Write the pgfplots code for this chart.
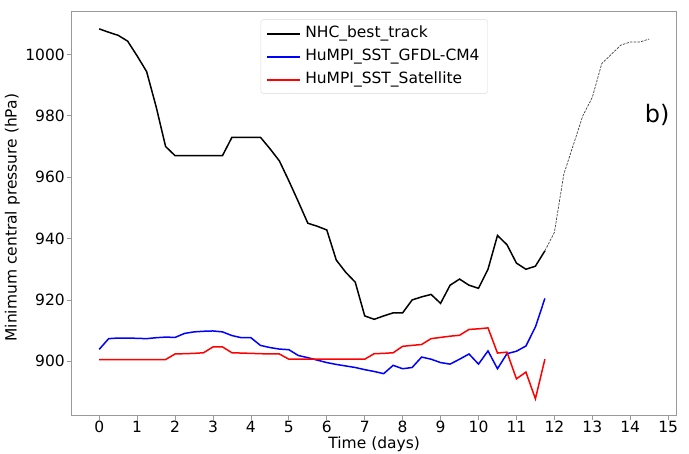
\documentclass[border=0pt]{standalone}
\usepackage{pgfplots}
\pgfplotsset{compat=1.18}
\usepackage{fontspec}
\setmainfont{DejaVu Sans}
\newcommand\fs{\fontsize{15.5}{18.6}\selectfont}

\pgfplotstableread{
t p
0 1008.3
0.25 1007.2
0.5 1006.2
0.75 1004.3
1.0 999.5
1.25 994.4
1.5 983
1.75 970
2.0 967
2.25 967
2.5 967
2.75 967
3.0 967
3.25 967
3.5 973
3.75 973
4.0 973
4.25 973
4.5 969.3
4.75 965.3
5.0 958.8
5.25 952
5.5 945
5.75 944
6.0 942.8
6.25 933
6.5 929
6.75 925.8
7.0 914.8
7.25 913.7
7.5 914.8
7.75 915.8
8.0 915.8
8.25 920
8.5 921
8.75 921.8
9.0 918.9
9.25 924.8
9.5 926.8
9.75 924.8
10.0 923.8
10.25 930
10.5 941
10.75 938
11.0 932
11.25 930
11.5 931
11.75 936
}\nhc

\pgfplotstableread{
t p
11.75 936
12.0 942
12.25 961
12.5 970.5
12.75 980
13.0 986
13.25 997
13.5 1000
13.75 1003
14.0 1004
14.25 1004
14.5 1005
}\nhcdash

\pgfplotstableread{
t p
0 903.9
0.25 907.4
0.5 907.6
0.75 907.6
1.0 907.5
1.25 907.4
1.5 907.7
1.75 907.9
2.0 907.8
2.25 909.1
2.5 909.6
2.75 909.8
3.0 909.9
3.25 909.6
3.5 908.4
3.75 907.7
4.0 907.7
4.25 905.2
4.5 904.5
4.75 904.0
5.0 903.8
5.25 901.9
5.5 901.2
5.75 900.4
6.0 899.6
6.25 899.0
6.5 898.5
6.75 898.0
7.0 897.3
7.25 896.7
7.5 896.0
7.75 898.7
8.0 897.6
8.25 898.0
8.5 901.4
8.75 900.7
9.0 899.6
9.25 899.1
9.5 900.7
9.75 902.4
10.0 899.1
10.25 903.4
10.5 897.6
10.75 902.5
11.0 903.3
11.25 905.0
11.5 911.2
11.75 920.5
}\gfdl

\pgfplotstableread{
t p
0 900.6
0.25 900.6
0.5 900.6
0.75 900.6
1.0 900.6
1.25 900.6
1.5 900.6
1.75 900.6
2.0 902.4
2.25 902.5
2.5 902.6
2.75 902.8
3.0 904.7
3.25 904.7
3.5 902.8
3.75 902.7
4.0 902.6
4.25 902.5
4.5 902.4
4.75 902.4
5.0 900.7
5.25 900.7
5.5 900.7
5.75 900.7
6.0 900.7
6.25 900.7
6.5 900.7
6.75 900.7
7.0 900.7
7.25 902.5
7.5 902.6
7.75 902.8
8.0 904.9
8.25 905.2
8.5 905.5
8.75 907.4
9.0 907.8
9.25 908.2
9.5 908.5
9.75 910.4
10.0 910.6
10.25 910.9
10.5 902.7
10.75 903.0
11.0 894.3
11.25 896.5
11.5 887.8
11.75 900.7
}\sat

\begin{document}
\begin{tikzpicture}
\begin{axis}[
  name=ax,
  scale only axis, width=605pt, height=404pt,
  xmin=-0.725, xmax=15.225, ymin=882.3, ymax=1013.9,
  xtick={0,1,...,15}, ytick={900,920,...,1000},
  axis line style={black!40, line width=0.8pt},
  tick style={black!40, line width=0.8pt},
  major tick length=4.5pt, tick align=outside, tick pos=left,
  /pgf/number format/assume math mode=true,
  /pgf/number format/set thousands separator={},
  ticklabel style={font=\fs, inner sep=0pt},
  xticklabel style={anchor=base, yshift=-12.5pt},
  yticklabel style={anchor=east, xshift=-2.2pt},
  xlabel={Time (days)}, ylabel={Minimum central pressure (hPa)},
  label style={font=\fs},
  xlabel style={at={(axis description cs:0.5,-0.0713)}, anchor=center},
  ylabel style={at={(axis description cs:-0.0983,0.49)}, anchor=center},
  legend style={at={(0.5,0.981)}, anchor=north, draw=black!15, rounded corners=2.5pt,
    font=\fs, inner xsep=6pt, inner ysep=4.5pt, row sep=4pt, column sep=4pt,
    nodes={inner sep=2pt, text height=11.5pt, text depth=3.5pt}},
  legend cell align=left,
]
\addlegendimage{legend image code/.code={\fill[black, sharp corners] (0pt,-0.75pt) rectangle (32pt,0.75pt);}}
\addlegendentry{NHC\_best\_track}
\addlegendimage{legend image code/.code={\fill[blue, sharp corners] (0pt,-0.75pt) rectangle (32pt,0.75pt);}}
\addlegendentry{HuMPI\_SST\_GFDL-CM4}
\addlegendimage{legend image code/.code={\fill[red, sharp corners] (0pt,-0.75pt) rectangle (32pt,0.75pt);}}
\addlegendentry{HuMPI\_SST\_Satellite}
\addplot[black, line width=1.5pt, forget plot] table[x=t,y=p] {\nhc};
\addplot[blue, line width=1.5pt, forget plot] table[x=t,y=p] {\gfdl};
\addplot[red, line width=1.5pt, forget plot] table[x=t,y=p] {\sat};
\addplot[black!75, line width=0.7pt, dash pattern=on 2.5pt off 1.2pt, forget plot] table[x=t,y=p] {\nhcdash};
\node[font=\fontsize{24}{28}\selectfont] at (axis cs:14.71,980.2) {b)};
\end{axis}
\pgfresetboundingbox
\path[use as bounding box] ([xshift=-71.7pt,yshift=-38.3pt]ax.south west) rectangle ([xshift=12.3pt,yshift=11.7pt]ax.north east);
\end{tikzpicture}
\end{document}
